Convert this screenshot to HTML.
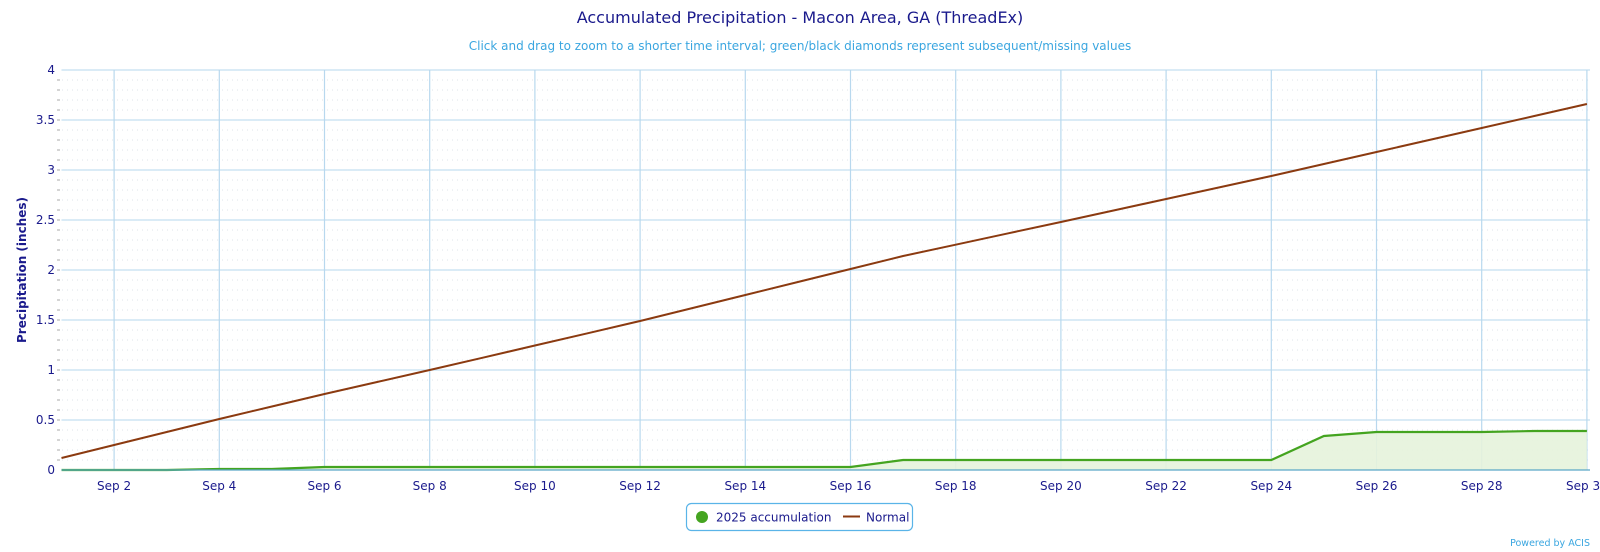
<!DOCTYPE html>
<html><head><meta charset="utf-8"><style>
body{margin:0;background:#fff;width:1600px;height:552px;overflow:hidden;font-family:"DejaVu Sans","Liberation Sans",sans-serif}
svg{position:absolute;left:0;top:0}
text{font-family:"DejaVu Sans","Liberation Sans",sans-serif}
</style></head><body>
<svg id="s" width="1600" height="552" xmlns="http://www.w3.org/2000/svg">
<g id="grid"></g>
<path id="gfill" fill="#e6f3dc" fill-opacity="0.9"/>
<path id="gline" fill="none" stroke="#44a420" stroke-width="2.2"/>
<path id="nline" fill="none" stroke="#8b3a10" stroke-width="2"/>
<line x1="61.5" y1="470" x2="1590" y2="470" stroke="#5aa8c8" stroke-width="1.2"/>
<text x="800" y="23" text-anchor="middle" font-size="16" fill="#1a1a8c">Accumulated Precipitation - Macon Area, GA (ThreadEx)</text>
<text x="800" y="50" text-anchor="middle" font-size="12" fill="#3aa6e0">Click and drag to zoom to a shorter time interval; green/black diamonds represent subsequent/missing values</text>
<text transform="translate(26,270) rotate(-90)" text-anchor="middle" font-size="12" font-weight="bold" fill="#1a1a8c">Precipitation (inches)</text>
<g font-size="12" fill="#1a1a8c" text-anchor="end">
<text x="55" y="74">4</text><text x="55" y="124">3.5</text><text x="55" y="174">3</text><text x="55" y="224">2.5</text>
<text x="55" y="274">2</text><text x="55" y="324">1.5</text><text x="55" y="374">1</text><text x="55" y="424">0.5</text><text x="55" y="474">0</text>
</g>
<g font-size="12" fill="#1a1a8c" text-anchor="middle">
<text x="114.1" y="490">Sep 2</text><text x="219.3" y="490">Sep 4</text><text x="324.5" y="490">Sep 6</text><text x="429.7" y="490">Sep 8</text>
<text x="534.9" y="490">Sep 10</text><text x="640.1" y="490">Sep 12</text><text x="745.3" y="490">Sep 14</text><text x="850.5" y="490">Sep 16</text>
<text x="955.7" y="490">Sep 18</text><text x="1060.9" y="490">Sep 20</text><text x="1166.1" y="490">Sep 22</text><text x="1271.3" y="490">Sep 24</text>
<text x="1376.5" y="490">Sep 26</text><text x="1481.7" y="490">Sep 28</text><text x="1586.9" y="490">Sep 30</text>
</g>
<rect x="686.5" y="503.5" width="226" height="27" rx="5" fill="#fff" stroke="#5ab4e8" stroke-width="1.2"/>
<circle cx="702" cy="517" r="6" fill="#44a420"/>
<text x="716" y="521.5" font-size="12" fill="#1a1a8c">2025 accumulation</text>
<line x1="843" y1="516.5" x2="860" y2="516.5" stroke="#8b3a10" stroke-width="2"/>
<text x="866" y="521.5" font-size="12" fill="#1a1a8c">Normal</text>
<text x="1590" y="546" text-anchor="end" font-size="9.5" fill="#3aa6e0">Powered by ACIS</text>
</svg>
<script>
var X=d=>61.5+(d-1)*52.6, Y=v=>470-v*100;
var g=document.getElementById('grid'),h='';
for(var i=1;i<40;i++){if(i%5)h+='<line x1="62" x2="1590" y1="'+Y(i/10)+'" y2="'+Y(i/10)+'" stroke="#dde3ea" stroke-width="1" stroke-dasharray="1,4"/>';
h+='<line x1="57" x2="60" y1="'+Y(i/10)+'" y2="'+Y(i/10)+'" stroke="#aaa" stroke-width="1"/>';}
for(var i=1;i<=8;i++)h+='<line x1="61.5" x2="1590" y1="'+Y(i/2)+'" y2="'+Y(i/2)+'" stroke="#c4dff0" stroke-width="1.2"/>';
for(var d=2;d<=30;d+=2)h+='<line x1="'+X(d)+'" x2="'+X(d)+'" y1="70" y2="470" stroke="#b8d8ee" stroke-width="1.2"/>';
g.innerHTML=h;
var nk={1:.12,4:.51,6:.76,8:1.0,12:1.49,16:2.01,17:2.14,20:2.48,24:2.94,26:3.18,30:3.66};
var ks=Object.keys(nk).map(Number),p='';
for(var d=1;d<=30;d++){var a,b;for(var j=0;j<ks.length-1;j++)if(d>=ks[j]&&d<=ks[j+1]){a=ks[j];b=ks[j+1];break;}
var v=nk[a]+(nk[b]-nk[a])*(d-a)/(b-a);p+=(d==1?'M':'L')+X(d).toFixed(1)+','+Y(v).toFixed(1);}
document.getElementById('nline').setAttribute('d',p);
var gv=[0,0,0,.01,.01,.03,.03,.03,.03,.03,.03,.03,.03,.03,.03,.03,.1,.1,.1,.1,.1,.1,.1,.1,.34,.38,.38,.38,.39,.39];
var q='';gv.forEach((v,i)=>{q+=(i?'L':'M')+X(i+1).toFixed(1)+','+Y(v).toFixed(1)});
document.getElementById('gline').setAttribute('d',q);
document.getElementById('gfill').setAttribute('d',q+'L'+X(30)+',470L'+X(1)+',470Z');
</script>
</body></html>
